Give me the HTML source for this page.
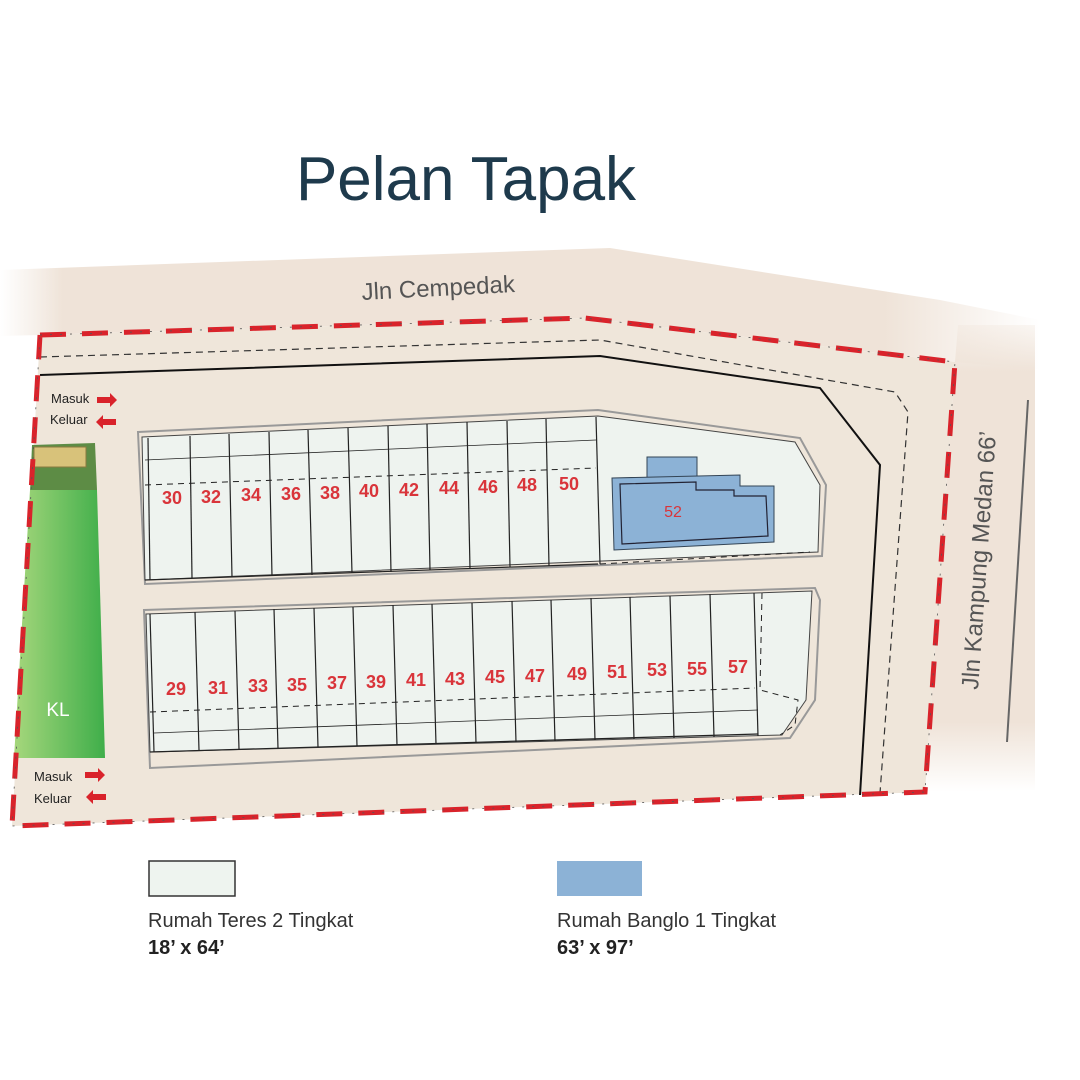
<!DOCTYPE html>
<html><head><meta charset="utf-8"><style>
html,body{margin:0;padding:0;background:#fff;width:1080px;height:1080px;overflow:hidden}
svg{display:block}
</style></head><body>
<svg width="1080" height="1080" viewBox="0 0 1080 1080" xmlns="http://www.w3.org/2000/svg" font-family="'Liberation Sans', sans-serif">
<defs>
<linearGradient id="rt" x1="0" x2="1" y1="0" y2="0">
<stop offset="0" stop-color="#f0e6dc" stop-opacity="0"/>
<stop offset="0.06" stop-color="#efe3d8"/>
<stop offset="0.85" stop-color="#efe3d8"/>
<stop offset="1" stop-color="#efe3d8" stop-opacity="0"/>
</linearGradient>
<linearGradient id="rr" x1="0" x2="0" y1="0" y2="1">
<stop offset="0" stop-color="#efe3d8" stop-opacity="0.3"/>
<stop offset="0.1" stop-color="#efe3d8"/>
<stop offset="0.85" stop-color="#efe3d8"/>
<stop offset="1" stop-color="#efe3d8" stop-opacity="0"/>
</linearGradient>
<linearGradient id="gr" x1="0" x2="1" y1="0" y2="0">
<stop offset="0" stop-color="#a6d77c"/>
<stop offset="1" stop-color="#3fae4a"/>
</linearGradient>
</defs>

<text x="466" y="200" text-anchor="middle" font-size="62" fill="#1e3a4c">Pelan Tapak</text>

<!-- roads -->
<polygon points="0,270 610,248 940,300 1040,320 1040,370 955,362 585,318 40,335 0,336" fill="url(#rt)"/>
<polygon points="958,325 1035,325 1035,790 925,792 955,362" fill="url(#rr)"/>
<line x1="1028" y1="400" x2="1007" y2="742" stroke="#666" stroke-width="2"/>
<text transform="translate(362,300) rotate(-3)" font-size="24" fill="#555">Jln Cempedak</text>
<text transform="translate(978,690) rotate(-86)" font-size="24" fill="#555">Jln Kampung Medan 66’</text>

<!-- site -->
<polygon points="40,335 585,318 955,362 925,792 12,826" fill="#efe6da"/>
<polyline points="40,357 600,340 895,392 908,412 880,793" fill="none" stroke="#333" stroke-width="1.2" stroke-dasharray="7,5"/>
<polyline points="40,375 600,356 820,388 880,465 860,795" fill="none" stroke="#111" stroke-width="2"/>

<!-- KL -->
<polygon points="32,445 95,443 97,490 30,492" fill="#5d8c45"/>
<rect x="34" y="447" width="52" height="20" fill="#d8c27a" stroke="#8a7a40" stroke-width="1"/>
<polygon points="30,490 97,490 105,758 14,758" fill="url(#gr)"/>
<text x="58" y="716" text-anchor="middle" font-size="19" fill="#fff">KL</text>

<!-- upper block -->
<polygon points="138,432 598,410 800,438 826,485 822,556 145,584" fill="none" stroke="#999" stroke-width="2"/>
<polygon points="142,437 598,416 795,442 820,485 818,552 145,580" fill="#eef3ef" stroke="#444" stroke-width="1"/>
<g stroke="#222" stroke-width="1.2">
<line x1="148" y1="438" x2="150" y2="580"/>
<line x1="190" y1="436" x2="192" y2="578"/>
<line x1="229" y1="434" x2="232" y2="577"/>
<line x1="269" y1="432" x2="272" y2="576"/>
<line x1="308" y1="430" x2="312" y2="575"/>
<line x1="348" y1="428" x2="352" y2="573"/>
<line x1="388" y1="426" x2="391" y2="572"/>
<line x1="427" y1="424" x2="430" y2="570"/>
<line x1="467" y1="422" x2="470" y2="569"/>
<line x1="507" y1="421" x2="510" y2="567"/>
<line x1="546" y1="419" x2="549" y2="566"/>
<line x1="596" y1="417" x2="600" y2="564"/>
<line x1="145" y1="580" x2="598" y2="564"/>
<line x1="145" y1="460" x2="596" y2="440" stroke-width="0.8"/>
</g>
<line x1="145" y1="485" x2="596" y2="468" stroke="#222" stroke-dasharray="6,5"/>
<line x1="600" y1="564" x2="810" y2="552" stroke="#222" stroke-dasharray="6,5"/>
<g font-size="18" font-weight="bold" fill="#d9343a" text-anchor="middle">
<text x="172" y="504">30</text><text x="211" y="503">32</text><text x="251" y="501">34</text>
<text x="291" y="500">36</text><text x="330" y="499">38</text><text x="369" y="497">40</text>
<text x="409" y="496">42</text><text x="449" y="494">44</text><text x="488" y="493">46</text>
<text x="527" y="491">48</text><text x="569" y="490">50</text>
</g>
<rect x="647" y="457" width="50" height="22" fill="#8cb2d6" stroke="#345" stroke-width="1"/>
<polygon points="612,478 740,475 740,486 774,486 774,542 614,550" fill="#8cb2d6" stroke="#345" stroke-width="1"/>
<polygon points="620,484 696,482 696,490 734,490 734,496 766,496 768,536 622,544" fill="none" stroke="#223" stroke-width="1.2"/>
<text x="673" y="517" text-anchor="middle" font-size="16" fill="#d9343a">52</text>

<!-- lower block -->
<polygon points="144,610 815,588 820,600 815,700 790,738 150,768" fill="none" stroke="#999" stroke-width="2"/>
<polygon points="146,614 812,591 806,700 782,735 150,752" fill="#eef3ef" stroke="#444" stroke-width="1"/>
<g stroke="#222" stroke-width="1.2">
<line x1="150" y1="614" x2="154" y2="752"/>
<line x1="195" y1="612" x2="199" y2="750"/>
<line x1="235" y1="611" x2="239" y2="749"/>
<line x1="274" y1="609" x2="278" y2="748"/>
<line x1="314" y1="608" x2="318" y2="747"/>
<line x1="353" y1="607" x2="357" y2="746"/>
<line x1="393" y1="605" x2="397" y2="745"/>
<line x1="432" y1="604" x2="436" y2="744"/>
<line x1="472" y1="603" x2="476" y2="743"/>
<line x1="512" y1="601" x2="516" y2="742"/>
<line x1="551" y1="600" x2="555" y2="741"/>
<line x1="591" y1="598" x2="595" y2="740"/>
<line x1="630" y1="597" x2="634" y2="739"/>
<line x1="670" y1="596" x2="674" y2="738"/>
<line x1="710" y1="594" x2="714" y2="737"/>
<line x1="754" y1="593" x2="758" y2="736"/>
<line x1="154" y1="733" x2="758" y2="710" stroke-width="0.8"/>
<line x1="150" y1="752" x2="758" y2="734"/>
</g>
<line x1="150" y1="712" x2="755" y2="688" stroke="#222" stroke-dasharray="6,5"/>
<polyline points="762,593 760,690 798,700 795,725 780,735" fill="none" stroke="#222" stroke-dasharray="6,5"/>
<g font-size="18" font-weight="bold" fill="#d9343a" text-anchor="middle">
<text x="176" y="695">29</text><text x="218" y="694">31</text><text x="258" y="692">33</text>
<text x="297" y="691">35</text><text x="337" y="689">37</text><text x="376" y="688">39</text>
<text x="416" y="686">41</text><text x="455" y="685">43</text><text x="495" y="683">45</text>
<text x="535" y="682">47</text><text x="577" y="680">49</text><text x="617" y="678">51</text>
<text x="657" y="676">53</text><text x="697" y="675">55</text><text x="738" y="673">57</text>
</g>

<!-- red boundary -->
<polyline points="40,335 585,318 955,362 925,792 12,826 40,335" fill="none" stroke="#d9232b" stroke-width="5" stroke-dasharray="26,16"/>
<polyline points="40,335 585,318 955,362 925,792 12,826 40,335" fill="none" stroke="#555" stroke-width="0.8" stroke-dasharray="2,8"/>

<!-- entrances -->
<g font-size="13" fill="#222">
<text x="51" y="403">Masuk</text><text x="50" y="424">Keluar</text>
<text x="34" y="781">Masuk</text><text x="34" y="803">Keluar</text>
</g>
<g fill="#d9232b">
<polygon points="97,397 110,397 110,393 117,400 110,407 110,403 97,403"/>
<polygon points="116,419 103,419 103,415 96,422 103,429 103,425 116,425"/>
<polygon points="85,772 98,772 98,768 105,775 98,782 98,778 85,778"/>
<polygon points="106,794 93,794 93,790 86,797 93,804 93,800 106,800"/>
</g>

<!-- legend -->
<rect x="149" y="861" width="86" height="35" fill="#eef4ef" stroke="#333" stroke-width="1.5"/>
<rect x="557" y="861" width="85" height="35" fill="#8cb2d6"/>
<text x="148" y="927" font-size="20" fill="#333">Rumah Teres 2 Tingkat</text>
<text x="148" y="954" font-size="20" font-weight="bold" fill="#222">18’ x 64’</text>
<text x="557" y="927" font-size="20" fill="#333">Rumah Banglo 1 Tingkat</text>
<text x="557" y="954" font-size="20" font-weight="bold" fill="#222">63’ x 97’</text>
</svg>
</body></html>
